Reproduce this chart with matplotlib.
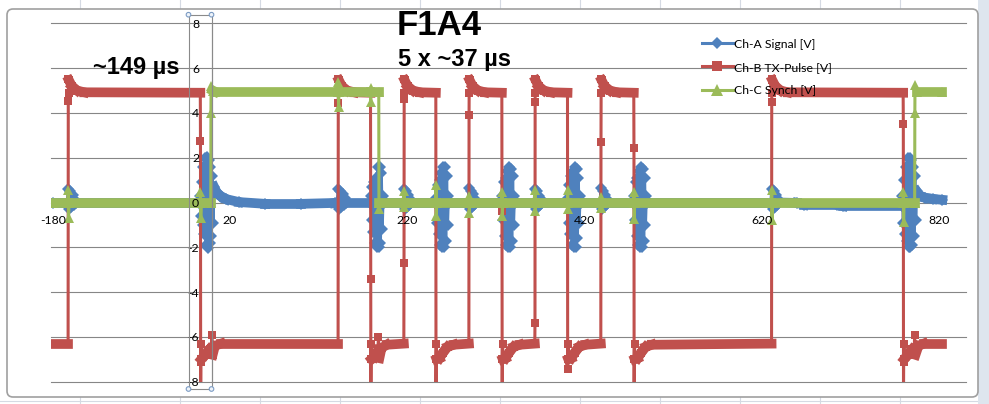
import numpy as np
import matplotlib
matplotlib.use("Agg")
import matplotlib.pyplot as plt
from matplotlib.collections import LineCollection
from matplotlib.lines import Line2D
from matplotlib.patches import Rectangle, FancyBboxPatch, Circle
from matplotlib.transforms import IdentityTransform

# ---------------- data ----------------
series_labels = ["Ch-A Signal [V]", "Ch-B TX-Pulse [V]", "Ch-C Synch [V]"]
title_text = "F1A4"
note_period = "5 x ~37 µs"
note_gap = "~149 µs"
x_ticks = [-180, 20, 220, 420, 620, 820]
y_ticks = [-8, -6, -4, -2, 0, 2, 4, 6, 8]

# Ch-A Signal (blue)
blue_t = [-180, -163.5,
          -162.5, -161.3, -160.1, -158.9, -157.7, -156.5, -155.3, -154.1,
          -15.0,
          -14.0, -13.0, -12.0, -11.0, -10.0, -9.0, -8.0, -7.0, -6.0, -5.0, -4.0, -3.0, -2.0, -1.0, 0.0, 1.0,
          2.0, 5.0, 9.0, 16.0, 30.0, 60.0, 100.0, 138.0,
          140.8, 142.2, 143.4, 144.6, 145.8, 147.0, 148.2, 149.4, 150.6,
          177.8,
          178.8, 179.8, 180.8, 181.8, 182.8, 183.8, 184.8, 185.8, 186.8, 187.8, 188.8, 189.8, 190.8, 191.8, 192.8, 193.8,
          215.4,
          216.4, 217.6, 218.8, 220.0, 221.2, 222.4, 223.6, 224.8,
          251.5,
          252.5, 253.5, 254.5, 255.5, 256.5, 257.5, 258.5, 259.5, 260.5, 261.5, 262.5, 263.5, 264.5, 265.5, 266.5, 267.5,
          288.8,
          289.8, 291.0, 292.2, 293.4, 294.6, 295.8, 297.0, 298.2,
          326.0,
          327.0, 328.0, 329.0, 330.0, 331.0, 332.0, 333.0, 334.0, 335.0, 336.0, 337.0, 338.0, 339.0, 340.0, 341.0, 342.0,
          363.2,
          364.2, 365.4, 366.6, 367.8, 369.0, 370.2, 371.4, 372.6,
          400.1,
          401.1, 402.1, 403.1, 404.1, 405.1, 406.1, 407.1, 408.1, 409.1, 410.1, 411.1, 412.1, 413.1, 414.1, 415.1, 416.1,
          437.7,
          438.7, 439.9, 441.1, 442.3, 443.5, 444.7, 445.9, 447.1,
          474.9,
          475.9, 476.9, 477.9, 478.9, 479.9, 480.9, 481.9, 482.9, 483.9, 484.9, 485.9, 486.9, 487.9, 488.9, 489.9, 490.9,
          630.4,
          631.4, 632.6, 633.8, 635.0, 636.2, 637.4, 638.6, 639.8,
          660.0, 668.0, 705.0, 712.0, 777.9,
          778.9, 779.9, 780.9, 781.9, 782.9, 783.9, 784.9, 785.9, 786.9, 787.9, 788.9, 789.9, 790.9, 791.9, 792.9, 793.9,
          795.0, 798.0, 804.0, 813.0, 824.0]
blue_v = [0.0, 0.0,
          0.6, -0.3, 0.5, -0.2, 0.35, -0.1, 0.1, 0.0,
          0.0,
          0.3, -0.6, 0.9, -1.0, 1.6, -1.4, 2.0, -1.9, 2.05, -2.05, 1.9, -1.8, 1.6, -1.5, 1.2, -0.9,
          0.7, 0.45, 0.3, 0.15, 0.02, -0.06, -0.06, -0.02,
          0.0, 0.6, -0.3, 0.5, -0.2, 0.4, -0.1, 0.2, 0.0,
          0.0,
          0.3, -0.8, 0.7, -1.3, 0.9, -1.8, 1.1, -2.0, 1.6, -2.0, 1.6, -1.8, 1.3, -1.2, 0.3, 0.0,
          0.0,
          0.6, -0.3, 0.5, -0.2, 0.35, -0.1, 0.15, 0.0,
          0.0,
          0.2, -0.9, 0.8, -1.4, 1.0, -1.9, 1.3, -2.0, 1.6, -2.0, 1.6, -1.7, 1.2, -1.0, 0.3, 0.0,
          0.0,
          0.65, -0.3, 0.5, -0.2, 0.4, -0.1, 0.15, 0.0,
          0.0,
          0.3, -0.8, 0.9, -1.5, 1.1, -1.9, 1.4, -2.0, 1.6, -2.0, 1.5, -1.7, 1.2, -1.0, 0.3, 0.0,
          0.0,
          0.6, -0.3, 0.5, -0.2, 0.3, -0.1, 0.15, 0.0,
          0.0,
          0.2, -0.9, 0.8, -1.4, 1.2, -1.9, 1.4, -2.0, 1.6, -2.0, 1.5, -1.6, 1.1, -0.9, 0.3, 0.0,
          0.0,
          0.65, -0.3, 0.5, -0.2, 0.35, -0.1, 0.15, 0.0,
          0.0,
          0.3, -0.8, 0.9, -1.5, 1.1, -1.9, 1.4, -2.0, 1.6, -2.0, 1.5, -1.7, 1.1, -1.0, 0.3, 0.0,
          0.0,
          0.6, -0.3, 0.5, -0.2, 0.35, -0.1, 0.15, 0.0,
          -0.02, -0.1, -0.1, -0.16, -0.16,
          0.3, -0.9, 1.0, -1.4, 1.6, -1.7, 2.0, -2.0, 2.0, -2.0, 1.9, -1.9, 1.6, -1.5, 1.2, -0.8,
          0.5, 0.32, 0.22, 0.16, 0.12]

# Ch-B TX-Pulse (red)
red_t = [-180, -162.7,
         -162.5, -162.3, -162.0, -161.7, -158.5, -152.5, -144.5, -13.5,
         -13.3, -13.1, -12.9, -12.6, -12.3, -8.0, -3.0, -0.9, -0.6, 0.4, 3.0, 10.0, 142.0,
         142.2, 142.4, 142.7, 143.0, 146.2, 152.2, 160.2, 178.6,
         178.8, 179.0, 179.2, 179.5, 179.8, 183.0, 186.8, 187.6, 188.6, 191.0, 197.0, 216.2,
         216.4, 216.5, 216.6, 216.9, 217.2, 220.4, 226.4, 234.4, 252.3,
         252.5, 252.7, 253.0, 253.3, 256.5, 260.5, 265.5, 272.5, 289.6,
         289.8, 290.0, 290.3, 290.6, 293.8, 299.8, 307.8, 326.8,
         327.0, 327.2, 327.4, 327.7, 328.0, 331.0, 335.0, 340.0, 347.0, 364.0,
         364.2, 364.3, 364.4, 364.7, 365.0, 368.2, 374.2, 382.2, 400.9,
         401.1, 401.3, 401.6, 401.9, 405.1, 409.1, 414.1, 421.1, 438.5,
         438.7, 438.9, 439.2, 439.5, 442.7, 448.7, 456.7, 475.7,
         475.9, 476.1, 476.3, 476.6, 476.9, 480.1, 484.1, 489.1, 496.1, 631.2,
         631.4, 631.6, 631.9, 632.2, 635.4, 641.4, 649.4, 779.7,
         779.9, 780.1, 780.3, 780.6, 780.9, 785.0, 790.0, 792.3, 792.6, 793.6, 797.0, 803.0, 823.0]
red_v = [-6.3, -6.3,
         4.55, 5.5, 4.9, 5.45, 5.2, 5.0, 4.92, 4.9,
         2.75, -8.6, -7.1, -6.3, -7.0, -6.8, -6.55, -6.5, -5.9, -6.8, -6.4, -6.3, -6.3,
         4.45, 5.5, 4.9, 5.45, 5.2, 5.0, 4.92, 4.9,
         -3.4, -8.6, -7.0, -6.3, -7.0, -6.9, -6.6, -6.0, -6.95, -6.5, -6.35, -6.3,
         -2.7, 4.64, 5.5, 4.9, 5.45, 5.2, 5.0, 4.92, 4.9,
         -8.6, -7.0, -6.3, -7.0, -6.95, -6.7, -6.45, -6.35, -6.3,
         3.9, 5.5, 4.9, 5.45, 5.2, 5.0, 4.92, 4.9,
         -0.4, -8.6, -7.0, -6.3, -7.0, -6.95, -6.7, -6.45, -6.35, -6.3,
         -5.4, 4.5, 5.5, 4.9, 5.45, 5.2, 5.0, 4.92, 4.9,
         -7.45, -7.0, -6.3, -7.0, -6.95, -6.7, -6.45, -6.35, -6.3,
         2.7, 5.5, 4.9, 5.45, 5.2, 5.0, 4.92, 4.9,
         2.45, -8.6, -7.0, -6.3, -7.0, -6.95, -6.7, -6.45, -6.35, -6.3,
         4.5, 5.5, 4.9, 5.45, 5.2, 5.0, 4.92, 4.9,
         3.5, -8.6, -7.1, -6.3, -7.0, -6.8, -6.55, -6.5, -5.9, -6.8, -6.4, -6.3, -6.3]

# Ch-C Synch (green)
green_t = [-180, -162.8, -162.5, -162.2, -161.6,
           -13.6, -13.3, -13.0, -12.4,
           -1.7, -1.5, -1.3, 0.5, 3.0,
           141.9, 142.2, 142.5, 143.1,
           178.5, 178.8, 179.1, 179.7,
           187.9, 188.1, 188.7,
           216.1, 216.4, 216.7, 217.3,
           252.2, 252.5, 252.8, 253.4,
           289.5, 289.8, 290.1, 290.7,
           326.7, 327.0, 327.3, 327.9,
           363.9, 364.2, 364.5, 365.1,
           400.8, 401.1, 401.4, 402.0,
           438.4, 438.7, 439.0, 439.6,
           475.6, 475.9, 476.2, 476.8,
           631.1, 631.4, 631.7, 632.3,
           779.6, 779.9, 780.2, 780.8,
           792.7, 792.9, 793.1, 795.0, 823.5]
green_v = [0.0, 0.0, 0.55, -0.7, 0.0,
           0.0, 0.45, -0.7, 0.0,
           0.0, 4.0, 5.2, 5.0, 4.95,
           4.95, 5.4, 4.25, 4.95,
           4.95, 4.5, 5.1, 4.95,
           4.95, -0.3, 0.0,
           0.0, 0.5, -0.2, 0.0,
           0.0, 0.8, -0.6, 0.0,
           0.0, 0.3, -0.45, 0.0,
           0.0, 0.45, -0.6, 0.0,
           0.0, 0.55, -0.4, 0.0,
           0.0, 0.55, -0.3, 0.0,
           0.0, 0.25, -0.25, 0.0,
           0.0, 0.45, -0.75, 0.0,
           0.0, 0.58, -0.78, 0.0,
           0.0, 0.45, -0.85, 0.0,
           0.0, 4.0, 5.25, 4.95, 4.95]

BLUE, RED, GREEN = "#4F81BD", "#C0504D", "#9BBB59"
GRID = "#868686"
LABEL_FONT = ["Lato", "DejaVu Sans"]
BOLD_FONT = ["Liberation Sans", "DejaVu Sans"]

W, H = 989, 404
fig = plt.figure(figsize=(W / 100, H / 100), dpi=100)
fig.patch.set_facecolor("white")

# ---------- spreadsheet surroundings (decoration in pixel coords) ----------
ID = IdentityTransform()
def prect(x0, y0, x1, y1, **kw):
    return Rectangle((x0, H - y1), x1 - x0, y1 - y0, transform=ID, **kw)

for cx in [80, 180, 260, 340, 420, 500, 580, 660, 740, 820, 900]:
    fig.add_artist(Line2D([cx, cx], [H - 9, H], transform=ID, color="#D5DAE3", lw=0.8, zorder=-3))
    fig.add_artist(Line2D([cx, cx], [0, H - 397], transform=ID, color="#D5DAE3", lw=0.8, zorder=-3))
fig.add_artist(Line2D([0, W], [H - 400.5, H - 400.5], transform=ID, color="#D5DAE3", lw=0.8, zorder=-3))
fig.add_artist(prect(978, 0, W, H, facecolor="#DEE5EE", edgecolor="none", zorder=-2))
border = FancyBboxPatch((7, H - 397), 971, 388, boxstyle="round,pad=0,rounding_size=6",
                        transform=ID, facecolor="white", edgecolor="#A0A0A0", lw=1.2, zorder=-1)
fig.add_artist(border)

# ---------- axes ----------
ax_left, ax_right, ax_top, ax_bottom = 51, 965.7, 23.3, 381.7
ax = fig.add_axes([ax_left / W, 1 - ax_bottom / H, (ax_right - ax_left) / W, (ax_bottom - ax_top) / H])
ax.set_facecolor("none")
ax.set_xlim(-182.0, 850.3)
ax.set_ylim(-8, 8)
ax.grid(False)
for yv in y_ticks:
    ax.axhline(yv, color=GRID, lw=0.8, zorder=0.5, clip_on=False)
for s in ["top", "right", "bottom"]:
    ax.spines[s].set_visible(False)
ax.spines["left"].set_position(("data", 0))
ax.spines["bottom"].set_position(("data", 0))
ax.spines["left"].set_color(GRID)
ax.spines["left"].set_linewidth(0.8)
ax.set_xticks(x_ticks)
ax.set_yticks(y_ticks)
ax.set_xticklabels([str(v) for v in x_ticks])
ax.set_yticklabels([str(v) for v in y_ticks])
ax.tick_params(axis="x", length=0, pad=9.0, labelsize=8.8, labelcolor="black")
ax.tick_params(axis="y", length=0, pad=9.5, labelsize=8.8, labelcolor="black")
for lab in ax.get_xticklabels() + ax.get_yticklabels():
    lab.set_fontfamily(LABEL_FONT)


def draw_series(xs, ys, color, marker, ms, z):
    xs = np.asarray(xs, float)
    ys = np.asarray(ys, float)
    ax.plot(xs, ys, color=color, lw=2.2, zorder=z, solid_joinstyle="miter")
    idx = np.where(np.diff(xs) >= 2.0)[0]
    segs = [[(xs[i], ys[i]), (xs[i + 1], ys[i + 1])] for i in idx]
    lc = LineCollection(segs, colors=color, linewidths=7.0, capstyle="projecting",
                        joinstyle="miter", zorder=z)
    ax.add_collection(lc)
    ax.plot(xs, ys, ls="none", marker=marker, ms=ms, color=color,
            markeredgewidth=0, zorder=z)


draw_series(blue_t, blue_v, BLUE, "D", 6.0, 1.1)
draw_series(red_t, red_v, RED, "s", 6.0, 1.2)
draw_series(green_t, green_v, GREEN, "^", 7.5, 1.3)

# ---------- legend ----------
handles = [Line2D([], [], color=BLUE, lw=2.2, marker="D", ms=6.5, markeredgewidth=0),
           Line2D([], [], color=RED, lw=2.2, marker="s", ms=7.5, markeredgewidth=0),
           Line2D([], [], color=GREEN, lw=2.2, marker="^", ms=8.5, markeredgewidth=0)]
leg = ax.legend(handles, series_labels, loc="upper left",
                bbox_to_anchor=(702 / W, 1 - 38.5 / H), bbox_transform=fig.transFigure,
                frameon=False, handlelength=2.5, handletextpad=0.1, labelspacing=1.0,
                borderpad=0, borderaxespad=0, numpoints=1,
                prop={"family": LABEL_FONT, "size": 8.8})
leg.set_zorder(5)

# ---------- annotations ----------
fig.text(397 / W, 1 - 35 / H, title_text, fontsize=25, fontweight="bold", family=BOLD_FONT,
         ha="left", va="baseline", zorder=6)
fig.text(398 / W, 1 - 66 / H, note_period, fontsize=17, fontweight="bold", family=BOLD_FONT,
         ha="left", va="baseline", zorder=6)
fig.text(93 / W, 1 - 74 / H, note_gap, fontsize=17, fontweight="bold", family=BOLD_FONT,
         ha="left", va="baseline", zorder=6)

# ---------- selected value-axis box (UI overlay) ----------
fig.add_artist(prect(188.5, 14.7, 211.5, 389, facecolor="none", edgecolor="#8A8A8A", lw=0.8, zorder=7))
for (cx, cy) in [(188.5, 14.7), (211.5, 14.7), (188.5, 389), (211.5, 389)]:
    fig.add_artist(Circle((cx, H - cy), 2.3, transform=ID, facecolor="#EEF3F9",
                          edgecolor="#7C9CC4", lw=0.8, zorder=8))

fig.savefig("out.png", dpi=100)
